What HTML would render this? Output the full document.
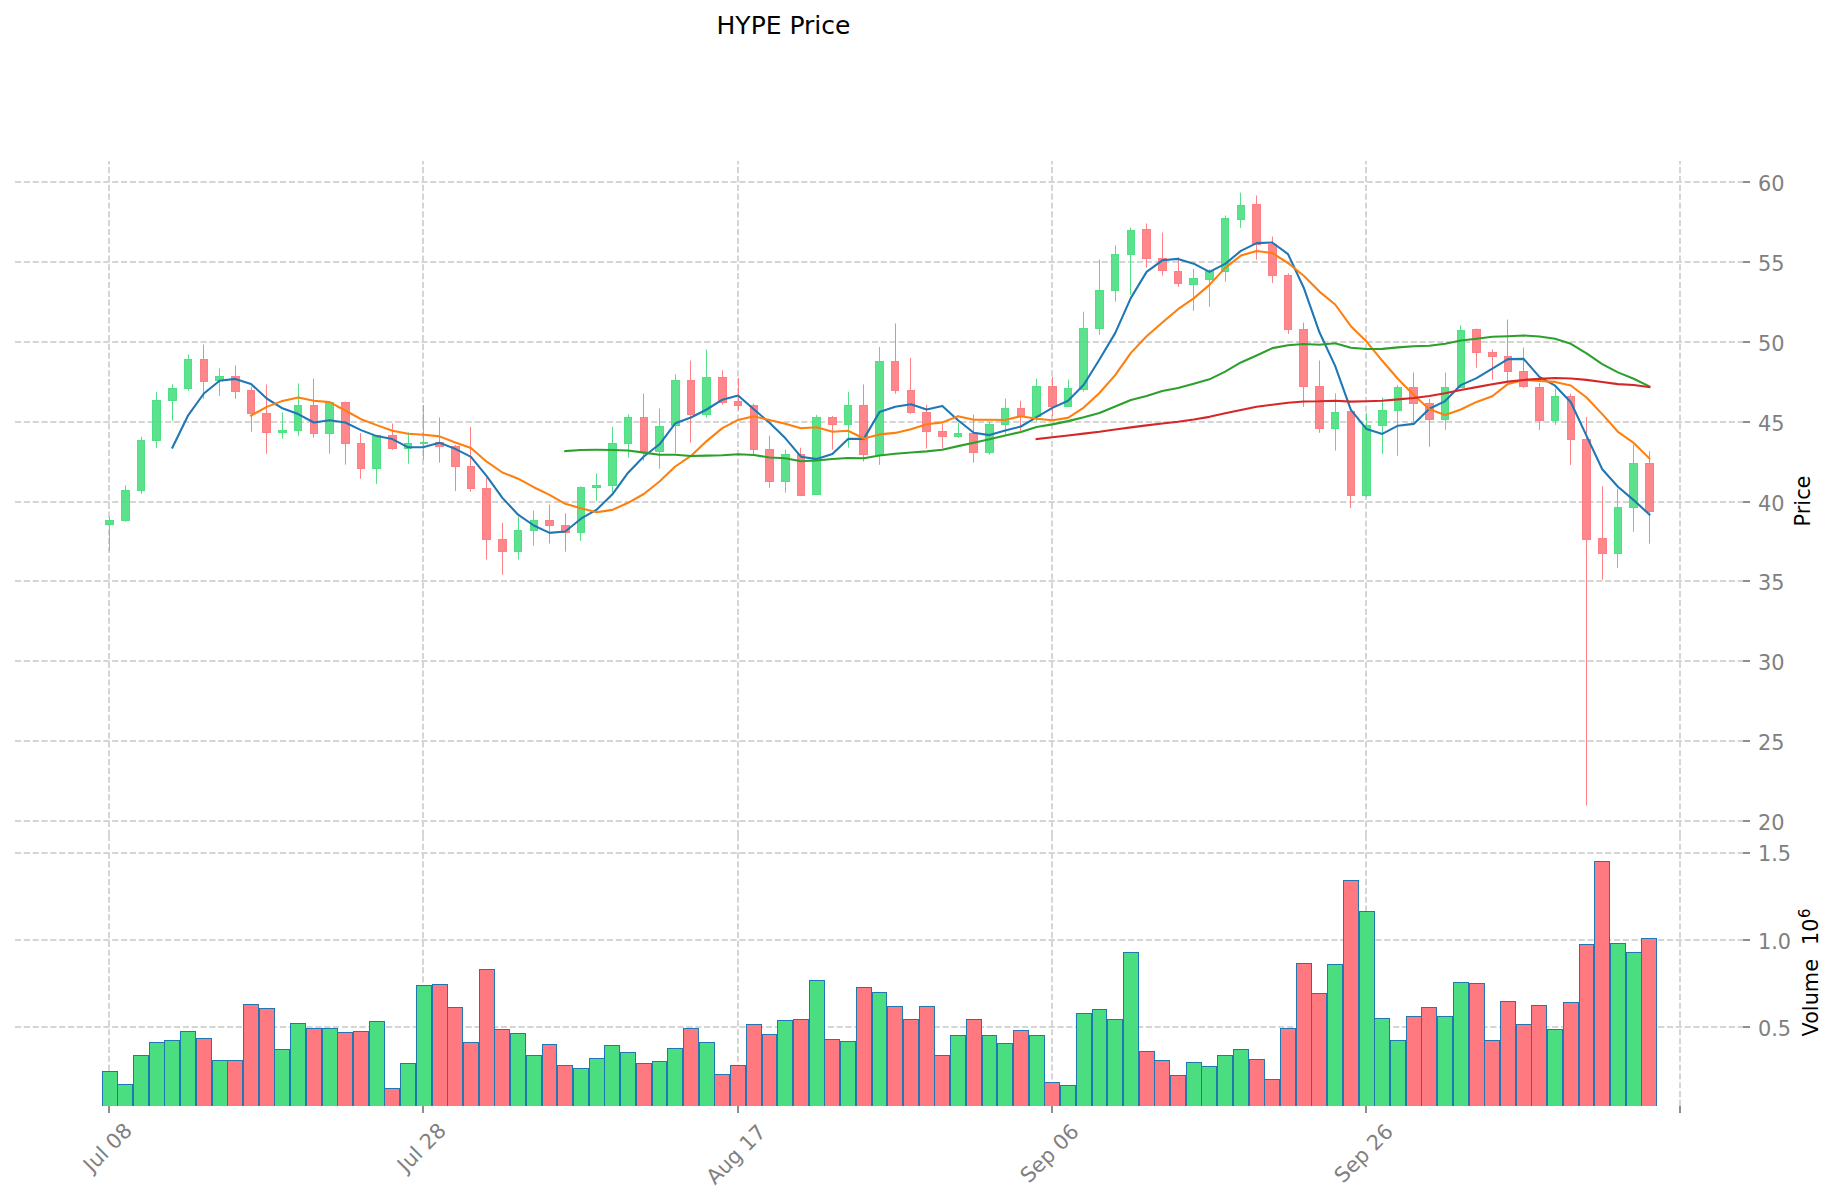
<!DOCTYPE html>
<html><head><meta charset="utf-8"><title>HYPE Price</title>
<style>html,body{margin:0;padding:0;background:#fff}svg{display:block}text{font-family:"DejaVu Sans","Liberation Sans",sans-serif}</style></head>
<body>
<svg width="1839" height="1202" viewBox="0 0 1839 1202">
<rect width="1839" height="1202" fill="#fff"/>
<g stroke="#d5d5d5" stroke-width="2" stroke-dasharray="6.167 2.667" fill="none">
<path d="M15.0 182H1743.4"/>
<path d="M15.0 262H1743.4"/>
<path d="M15.0 342H1743.4"/>
<path d="M15.0 422H1743.4"/>
<path d="M15.0 502H1743.4"/>
<path d="M15.0 581H1743.4"/>
<path d="M15.0 661H1743.4"/>
<path d="M15.0 741H1743.4"/>
<path d="M15.0 821H1743.4"/>
<path d="M15.0 853H1743.4"/>
<path d="M15.0 940H1743.4"/>
<path d="M15.0 1027H1743.4"/>
<path d="M109 835.8V161.1"/>
<path d="M109 1106.0V835.8"/>
<path d="M423 835.8V161.1"/>
<path d="M423 1106.0V835.8"/>
<path d="M738 835.8V161.1"/>
<path d="M738 1106.0V835.8"/>
<path d="M1052 835.8V161.1"/>
<path d="M1052 1106.0V835.8"/>
<path d="M1366 835.8V161.1"/>
<path d="M1366 1106.0V835.8"/>
<path d="M1680 835.8V161.1"/>
<path d="M1680 1106.0V835.8"/>
</g>
<g><g fill="#4ade80" stroke="#4ade80"><path d="M109.5 516.6V520M109.5 525V551.1" stroke-width="1" stroke-opacity="0.95" fill="none"/><rect x="105.5" y="520.5" width="8.0" height="4" stroke-width="1" fill-opacity="0.9" stroke-opacity="0.95"/></g>
<g fill="#4ade80" stroke="#4ade80"><path d="M125.5 485.3V490M125.5 521V521.7" stroke-width="1" stroke-opacity="0.95" fill="none"/><rect x="121.5" y="490.5" width="8.0" height="30" stroke-width="1" fill-opacity="0.9" stroke-opacity="0.95"/></g>
<g fill="#4ade80" stroke="#4ade80"><path d="M141.5 436.8V440M141.5 491V493.8" stroke-width="1" stroke-opacity="0.95" fill="none"/><rect x="137.5" y="440.5" width="7.0" height="50" stroke-width="1" fill-opacity="0.9" stroke-opacity="0.95"/></g>
<g fill="#4ade80" stroke="#4ade80"><path d="M156.5 391.9V400M156.5 441V447.9" stroke-width="1" stroke-opacity="0.95" fill="none"/><rect x="152.5" y="400.5" width="8.0" height="40" stroke-width="1" fill-opacity="0.9" stroke-opacity="0.95"/></g>
<g fill="#4ade80" stroke="#4ade80"><path d="M172.5 384.3V388M172.5 401V420.7" stroke-width="1" stroke-opacity="0.95" fill="none"/><rect x="168.5" y="388.5" width="8.0" height="12" stroke-width="1" fill-opacity="0.9" stroke-opacity="0.95"/></g>
<g fill="#4ade80" stroke="#4ade80"><path d="M188.5 354.6V359M188.5 389V390.8" stroke-width="1" stroke-opacity="0.95" fill="none"/><rect x="184.5" y="359.5" width="7.0" height="29" stroke-width="1" fill-opacity="0.9" stroke-opacity="0.95"/></g>
<g fill="#fe7a80" stroke="#fe7a80"><path d="M203.5 344.6V359M203.5 382V398.8" stroke-width="1" stroke-opacity="0.95" fill="none"/><rect x="200.5" y="359.5" width="7.0" height="22" stroke-width="1" fill-opacity="0.9" stroke-opacity="0.95"/></g>
<g fill="#4ade80" stroke="#4ade80"><path d="M219.5 368.5V376M219.5 381V395.8" stroke-width="1" stroke-opacity="0.95" fill="none"/><rect x="215.5" y="376.5" width="8.0" height="4" stroke-width="1" fill-opacity="0.9" stroke-opacity="0.95"/></g>
<g fill="#fe7a80" stroke="#fe7a80"><path d="M235.5 365.5V376M235.5 392V398.8" stroke-width="1" stroke-opacity="0.95" fill="none"/><rect x="231.5" y="376.5" width="8.0" height="15" stroke-width="1" fill-opacity="0.9" stroke-opacity="0.95"/></g>
<g fill="#fe7a80" stroke="#fe7a80"><path d="M251.5 386.9V390M251.5 414V431.7" stroke-width="1" stroke-opacity="0.95" fill="none"/><rect x="247.5" y="390.5" width="7.0" height="23" stroke-width="1" fill-opacity="0.9" stroke-opacity="0.95"/></g>
<g fill="#fe7a80" stroke="#fe7a80"><path d="M266.5 384.5V413M266.5 433V453.7" stroke-width="1" stroke-opacity="0.95" fill="none"/><rect x="262.5" y="413.5" width="8.0" height="19" stroke-width="1" fill-opacity="0.9" stroke-opacity="0.95"/></g>
<g fill="#4ade80" stroke="#4ade80"><path d="M282.5 412.4V430M282.5 433V438.7" stroke-width="1" stroke-opacity="0.95" fill="none"/><rect x="278.5" y="430.5" width="8.0" height="2" stroke-width="1" fill-opacity="0.9" stroke-opacity="0.95"/></g>
<g fill="#4ade80" stroke="#4ade80"><path d="M298.5 383.5V405M298.5 431V435.7" stroke-width="1" stroke-opacity="0.95" fill="none"/><rect x="294.5" y="405.5" width="7.0" height="25" stroke-width="1" fill-opacity="0.9" stroke-opacity="0.95"/></g>
<g fill="#fe7a80" stroke="#fe7a80"><path d="M313.5 378.5V405M313.5 434V437.7" stroke-width="1" stroke-opacity="0.95" fill="none"/><rect x="310.5" y="405.5" width="7.0" height="28" stroke-width="1" fill-opacity="0.9" stroke-opacity="0.95"/></g>
<g fill="#4ade80" stroke="#4ade80"><path d="M329.5 401.9V402M329.5 434V453.7" stroke-width="1" stroke-opacity="0.95" fill="none"/><rect x="325.5" y="402.5" width="8.0" height="31" stroke-width="1" fill-opacity="0.9" stroke-opacity="0.95"/></g>
<g fill="#fe7a80" stroke="#fe7a80"><path d="M345.5 401.5V402M345.5 444V464.6" stroke-width="1" stroke-opacity="0.95" fill="none"/><rect x="341.5" y="402.5" width="8.0" height="41" stroke-width="1" fill-opacity="0.9" stroke-opacity="0.95"/></g>
<g fill="#fe7a80" stroke="#fe7a80"><path d="M360.5 433.2V443M360.5 469V478.8" stroke-width="1" stroke-opacity="0.95" fill="none"/><rect x="357.5" y="443.5" width="7.0" height="25" stroke-width="1" fill-opacity="0.9" stroke-opacity="0.95"/></g>
<g fill="#4ade80" stroke="#4ade80"><path d="M376.5 434.8V435M376.5 469V483.8" stroke-width="1" stroke-opacity="0.95" fill="none"/><rect x="372.5" y="435.5" width="8.0" height="33" stroke-width="1" fill-opacity="0.9" stroke-opacity="0.95"/></g>
<g fill="#fe7a80" stroke="#fe7a80"><path d="M392.5 423.5V435M392.5 449V449.9" stroke-width="1" stroke-opacity="0.95" fill="none"/><rect x="388.5" y="435.5" width="8.0" height="13" stroke-width="1" fill-opacity="0.9" stroke-opacity="0.95"/></g>
<g fill="#4ade80" stroke="#4ade80"><path d="M408.5 432.3V443M408.5 449V463.7" stroke-width="1" stroke-opacity="0.95" fill="none"/><rect x="404.5" y="443.5" width="7.0" height="5" stroke-width="1" fill-opacity="0.9" stroke-opacity="0.95"/></g>
<g fill="#4ade80" stroke="#4ade80"><path d="M423.5 404.9V442M423.5 444V459.7" stroke-width="1" stroke-opacity="0.95" fill="none"/><rect x="420.5" y="442.5" width="7.0" height="1" stroke-width="1" fill-opacity="0.9" stroke-opacity="0.95"/></g>
<g fill="#fe7a80" stroke="#fe7a80"><path d="M439.5 417.5V442M439.5 447V462.7" stroke-width="1" stroke-opacity="0.95" fill="none"/><rect x="435.5" y="442.5" width="8.0" height="4" stroke-width="1" fill-opacity="0.9" stroke-opacity="0.95"/></g>
<g fill="#fe7a80" stroke="#fe7a80"><path d="M455.5 444.9V446M455.5 467V490.9" stroke-width="1" stroke-opacity="0.95" fill="none"/><rect x="451.5" y="446.5" width="8.0" height="20" stroke-width="1" fill-opacity="0.9" stroke-opacity="0.95"/></g>
<g fill="#fe7a80" stroke="#fe7a80"><path d="M470.5 426.9V466M470.5 489V491.7" stroke-width="1" stroke-opacity="0.95" fill="none"/><rect x="467.5" y="466.5" width="7.0" height="22" stroke-width="1" fill-opacity="0.9" stroke-opacity="0.95"/></g>
<g fill="#fe7a80" stroke="#fe7a80"><path d="M486.5 477.8V488M486.5 540V559.5" stroke-width="1" stroke-opacity="0.95" fill="none"/><rect x="482.5" y="488.5" width="8.0" height="51" stroke-width="1" fill-opacity="0.9" stroke-opacity="0.95"/></g>
<g fill="#fe7a80" stroke="#fe7a80"><path d="M502.5 522.7V539M502.5 552V574.7" stroke-width="1" stroke-opacity="0.95" fill="none"/><rect x="498.5" y="539.5" width="8.0" height="12" stroke-width="1" fill-opacity="0.9" stroke-opacity="0.95"/></g>
<g fill="#4ade80" stroke="#4ade80"><path d="M518.5 516.7V530M518.5 552V559.5" stroke-width="1" stroke-opacity="0.95" fill="none"/><rect x="514.5" y="530.5" width="7.0" height="21" stroke-width="1" fill-opacity="0.9" stroke-opacity="0.95"/></g>
<g fill="#4ade80" stroke="#4ade80"><path d="M533.5 510.7V520M533.5 531V545.7" stroke-width="1" stroke-opacity="0.95" fill="none"/><rect x="530.5" y="520.5" width="7.0" height="10" stroke-width="1" fill-opacity="0.9" stroke-opacity="0.95"/></g>
<g fill="#fe7a80" stroke="#fe7a80"><path d="M549.5 504.7V520M549.5 526V543.6" stroke-width="1" stroke-opacity="0.95" fill="none"/><rect x="545.5" y="520.5" width="8.0" height="5" stroke-width="1" fill-opacity="0.9" stroke-opacity="0.95"/></g>
<g fill="#fe7a80" stroke="#fe7a80"><path d="M565.5 513.3V525M565.5 533V551.7" stroke-width="1" stroke-opacity="0.95" fill="none"/><rect x="561.5" y="525.5" width="8.0" height="7" stroke-width="1" fill-opacity="0.9" stroke-opacity="0.95"/></g>
<g fill="#4ade80" stroke="#4ade80"><path d="M580.5 486.4V487M580.5 533V540.8" stroke-width="1" stroke-opacity="0.95" fill="none"/><rect x="577.5" y="487.5" width="7.0" height="45" stroke-width="1" fill-opacity="0.9" stroke-opacity="0.95"/></g>
<g fill="#4ade80" stroke="#4ade80"><path d="M596.5 473.4V485M596.5 488V500.8" stroke-width="1" stroke-opacity="0.95" fill="none"/><rect x="592.5" y="485.5" width="8.0" height="2" stroke-width="1" fill-opacity="0.9" stroke-opacity="0.95"/></g>
<g fill="#4ade80" stroke="#4ade80"><path d="M612.5 426.9V443M612.5 486V492.3" stroke-width="1" stroke-opacity="0.95" fill="none"/><rect x="608.5" y="443.5" width="8.0" height="42" stroke-width="1" fill-opacity="0.9" stroke-opacity="0.95"/></g>
<g fill="#4ade80" stroke="#4ade80"><path d="M628.5 414.3V417M628.5 444V457.7" stroke-width="1" stroke-opacity="0.95" fill="none"/><rect x="624.5" y="417.5" width="7.0" height="26" stroke-width="1" fill-opacity="0.9" stroke-opacity="0.95"/></g>
<g fill="#fe7a80" stroke="#fe7a80"><path d="M643.5 393.6V417M643.5 452V460.7" stroke-width="1" stroke-opacity="0.95" fill="none"/><rect x="640.5" y="417.5" width="7.0" height="34" stroke-width="1" fill-opacity="0.9" stroke-opacity="0.95"/></g>
<g fill="#4ade80" stroke="#4ade80"><path d="M659.5 408.5V426M659.5 452V468.7" stroke-width="1" stroke-opacity="0.95" fill="none"/><rect x="655.5" y="426.5" width="8.0" height="25" stroke-width="1" fill-opacity="0.9" stroke-opacity="0.95"/></g>
<g fill="#4ade80" stroke="#4ade80"><path d="M675.5 374.4V380M675.5 426V453.3" stroke-width="1" stroke-opacity="0.95" fill="none"/><rect x="671.5" y="380.5" width="8.0" height="45" stroke-width="1" fill-opacity="0.9" stroke-opacity="0.95"/></g>
<g fill="#fe7a80" stroke="#fe7a80"><path d="M690.5 360.5V380M690.5 415V442.6" stroke-width="1" stroke-opacity="0.95" fill="none"/><rect x="687.5" y="380.5" width="7.0" height="34" stroke-width="1" fill-opacity="0.9" stroke-opacity="0.95"/></g>
<g fill="#4ade80" stroke="#4ade80"><path d="M706.5 349.5V377M706.5 415V417.6" stroke-width="1" stroke-opacity="0.95" fill="none"/><rect x="702.5" y="377.5" width="8.0" height="37" stroke-width="1" fill-opacity="0.9" stroke-opacity="0.95"/></g>
<g fill="#fe7a80" stroke="#fe7a80"><path d="M722.5 370.4V377M722.5 403V404.7" stroke-width="1" stroke-opacity="0.95" fill="none"/><rect x="718.5" y="377.5" width="8.0" height="25" stroke-width="1" fill-opacity="0.9" stroke-opacity="0.95"/></g>
<g fill="#fe7a80" stroke="#fe7a80"><path d="M738.5 377.8V401M738.5 406V409.9" stroke-width="1" stroke-opacity="0.95" fill="none"/><rect x="734.5" y="401.5" width="7.0" height="4" stroke-width="1" fill-opacity="0.9" stroke-opacity="0.95"/></g>
<g fill="#fe7a80" stroke="#fe7a80"><path d="M753.5 403.8V405M753.5 450V454.2" stroke-width="1" stroke-opacity="0.95" fill="none"/><rect x="750.5" y="405.5" width="7.0" height="44" stroke-width="1" fill-opacity="0.9" stroke-opacity="0.95"/></g>
<g fill="#fe7a80" stroke="#fe7a80"><path d="M769.5 435.7V449M769.5 482V487.7" stroke-width="1" stroke-opacity="0.95" fill="none"/><rect x="765.5" y="449.5" width="8.0" height="32" stroke-width="1" fill-opacity="0.9" stroke-opacity="0.95"/></g>
<g fill="#4ade80" stroke="#4ade80"><path d="M785.5 449.7V454M785.5 482V492.7" stroke-width="1" stroke-opacity="0.95" fill="none"/><rect x="781.5" y="454.5" width="8.0" height="27" stroke-width="1" fill-opacity="0.9" stroke-opacity="0.95"/></g>
<g fill="#fe7a80" stroke="#fe7a80"><path d="M800.5 447.7V454M800.5 496V496.1" stroke-width="1" stroke-opacity="0.95" fill="none"/><rect x="797.5" y="454.5" width="7.0" height="41" stroke-width="1" fill-opacity="0.9" stroke-opacity="0.95"/></g>
<g fill="#4ade80" stroke="#4ade80"><path d="M816.5 414.8V417M816.5 495V495.1" stroke-width="1" stroke-opacity="0.95" fill="none"/><rect x="812.5" y="417.5" width="8.0" height="77" stroke-width="1" fill-opacity="0.9" stroke-opacity="0.95"/></g>
<g fill="#fe7a80" stroke="#fe7a80"><path d="M832.5 416.1V417M832.5 425V449.6" stroke-width="1" stroke-opacity="0.95" fill="none"/><rect x="828.5" y="417.5" width="8.0" height="7" stroke-width="1" fill-opacity="0.9" stroke-opacity="0.95"/></g>
<g fill="#4ade80" stroke="#4ade80"><path d="M848.5 391.8V405M848.5 425V447.6" stroke-width="1" stroke-opacity="0.95" fill="none"/><rect x="844.5" y="405.5" width="7.0" height="19" stroke-width="1" fill-opacity="0.9" stroke-opacity="0.95"/></g>
<g fill="#fe7a80" stroke="#fe7a80"><path d="M863.5 384.4V405M863.5 455V461.6" stroke-width="1" stroke-opacity="0.95" fill="none"/><rect x="859.5" y="405.5" width="8.0" height="49" stroke-width="1" fill-opacity="0.9" stroke-opacity="0.95"/></g>
<g fill="#4ade80" stroke="#4ade80"><path d="M879.5 346.9V361M879.5 455V464.8" stroke-width="1" stroke-opacity="0.95" fill="none"/><rect x="875.5" y="361.5" width="8.0" height="93" stroke-width="1" fill-opacity="0.9" stroke-opacity="0.95"/></g>
<g fill="#fe7a80" stroke="#fe7a80"><path d="M895.5 323.5V361M895.5 391V393.7" stroke-width="1" stroke-opacity="0.95" fill="none"/><rect x="891.5" y="361.5" width="7.0" height="29" stroke-width="1" fill-opacity="0.9" stroke-opacity="0.95"/></g>
<g fill="#fe7a80" stroke="#fe7a80"><path d="M910.5 357.9V390M910.5 413V413.9" stroke-width="1" stroke-opacity="0.95" fill="none"/><rect x="907.5" y="390.5" width="7.0" height="22" stroke-width="1" fill-opacity="0.9" stroke-opacity="0.95"/></g>
<g fill="#fe7a80" stroke="#fe7a80"><path d="M926.5 404.8V412M926.5 432V448.6" stroke-width="1" stroke-opacity="0.95" fill="none"/><rect x="922.5" y="412.5" width="8.0" height="19" stroke-width="1" fill-opacity="0.9" stroke-opacity="0.95"/></g>
<g fill="#fe7a80" stroke="#fe7a80"><path d="M942.5 423.7V431M942.5 437V448.6" stroke-width="1" stroke-opacity="0.95" fill="none"/><rect x="938.5" y="431.5" width="8.0" height="5" stroke-width="1" fill-opacity="0.9" stroke-opacity="0.95"/></g>
<g fill="#4ade80" stroke="#4ade80"><path d="M958.5 422.7V433M958.5 437V437.8" stroke-width="1" stroke-opacity="0.95" fill="none"/><rect x="954.5" y="433.5" width="7.0" height="3" stroke-width="1" fill-opacity="0.9" stroke-opacity="0.95"/></g>
<g fill="#fe7a80" stroke="#fe7a80"><path d="M973.5 414.7V433M973.5 453V462.7" stroke-width="1" stroke-opacity="0.95" fill="none"/><rect x="969.5" y="433.5" width="8.0" height="19" stroke-width="1" fill-opacity="0.9" stroke-opacity="0.95"/></g>
<g fill="#4ade80" stroke="#4ade80"><path d="M989.5 421.7V424M989.5 453V454.7" stroke-width="1" stroke-opacity="0.95" fill="none"/><rect x="985.5" y="424.5" width="8.0" height="28" stroke-width="1" fill-opacity="0.9" stroke-opacity="0.95"/></g>
<g fill="#4ade80" stroke="#4ade80"><path d="M1005.5 398.7V408M1005.5 425V434.1" stroke-width="1" stroke-opacity="0.95" fill="none"/><rect x="1001.5" y="408.5" width="7.0" height="16" stroke-width="1" fill-opacity="0.9" stroke-opacity="0.95"/></g>
<g fill="#fe7a80" stroke="#fe7a80"><path d="M1020.5 400.7V408M1020.5 417V431.1" stroke-width="1" stroke-opacity="0.95" fill="none"/><rect x="1017.5" y="408.5" width="7.0" height="8" stroke-width="1" fill-opacity="0.9" stroke-opacity="0.95"/></g>
<g fill="#4ade80" stroke="#4ade80"><path d="M1036.5 378.7V386M1036.5 417V421.2" stroke-width="1" stroke-opacity="0.95" fill="none"/><rect x="1032.5" y="386.5" width="8.0" height="30" stroke-width="1" fill-opacity="0.9" stroke-opacity="0.95"/></g>
<g fill="#fe7a80" stroke="#fe7a80"><path d="M1052.5 376.7V386M1052.5 407V416.2" stroke-width="1" stroke-opacity="0.95" fill="none"/><rect x="1048.5" y="386.5" width="8.0" height="20" stroke-width="1" fill-opacity="0.9" stroke-opacity="0.95"/></g>
<g fill="#4ade80" stroke="#4ade80"><path d="M1068.5 379.6V388M1068.5 407V407.0" stroke-width="1" stroke-opacity="0.95" fill="none"/><rect x="1064.5" y="388.5" width="7.0" height="18" stroke-width="1" fill-opacity="0.9" stroke-opacity="0.95"/></g>
<g fill="#4ade80" stroke="#4ade80"><path d="M1083.5 311.7V328M1083.5 390V391.7" stroke-width="1" stroke-opacity="0.95" fill="none"/><rect x="1079.5" y="328.5" width="8.0" height="61" stroke-width="1" fill-opacity="0.9" stroke-opacity="0.95"/></g>
<g fill="#4ade80" stroke="#4ade80"><path d="M1099.5 259.4V290M1099.5 329V334.8" stroke-width="1" stroke-opacity="0.95" fill="none"/><rect x="1095.5" y="290.5" width="8.0" height="38" stroke-width="1" fill-opacity="0.9" stroke-opacity="0.95"/></g>
<g fill="#4ade80" stroke="#4ade80"><path d="M1115.5 245.4V254M1115.5 291V301.6" stroke-width="1" stroke-opacity="0.95" fill="none"/><rect x="1111.5" y="254.5" width="7.0" height="36" stroke-width="1" fill-opacity="0.9" stroke-opacity="0.95"/></g>
<g fill="#4ade80" stroke="#4ade80"><path d="M1130.5 227.3V230M1130.5 255V294.7" stroke-width="1" stroke-opacity="0.95" fill="none"/><rect x="1127.5" y="230.5" width="7.0" height="24" stroke-width="1" fill-opacity="0.9" stroke-opacity="0.95"/></g>
<g fill="#fe7a80" stroke="#fe7a80"><path d="M1146.5 223.5V229M1146.5 259V267.7" stroke-width="1" stroke-opacity="0.95" fill="none"/><rect x="1142.5" y="229.5" width="8.0" height="29" stroke-width="1" fill-opacity="0.9" stroke-opacity="0.95"/></g>
<g fill="#fe7a80" stroke="#fe7a80"><path d="M1162.5 232.5V258M1162.5 271V275.7" stroke-width="1" stroke-opacity="0.95" fill="none"/><rect x="1158.5" y="258.5" width="8.0" height="12" stroke-width="1" fill-opacity="0.9" stroke-opacity="0.95"/></g>
<g fill="#fe7a80" stroke="#fe7a80"><path d="M1178.5 257.2V271M1178.5 284V286.9" stroke-width="1" stroke-opacity="0.95" fill="none"/><rect x="1174.5" y="271.5" width="7.0" height="12" stroke-width="1" fill-opacity="0.9" stroke-opacity="0.95"/></g>
<g fill="#4ade80" stroke="#4ade80"><path d="M1193.5 268.8V278M1193.5 285V310.8" stroke-width="1" stroke-opacity="0.95" fill="none"/><rect x="1189.5" y="278.5" width="8.0" height="6" stroke-width="1" fill-opacity="0.9" stroke-opacity="0.95"/></g>
<g fill="#4ade80" stroke="#4ade80"><path d="M1209.5 269.2V271M1209.5 280V306.8" stroke-width="1" stroke-opacity="0.95" fill="none"/><rect x="1205.5" y="271.5" width="8.0" height="8" stroke-width="1" fill-opacity="0.9" stroke-opacity="0.95"/></g>
<g fill="#4ade80" stroke="#4ade80"><path d="M1225.5 215.5V218M1225.5 272V281.7" stroke-width="1" stroke-opacity="0.95" fill="none"/><rect x="1221.5" y="218.5" width="7.0" height="53" stroke-width="1" fill-opacity="0.9" stroke-opacity="0.95"/></g>
<g fill="#4ade80" stroke="#4ade80"><path d="M1240.5 192.6V205M1240.5 220V227.8" stroke-width="1" stroke-opacity="0.95" fill="none"/><rect x="1237.5" y="205.5" width="7.0" height="14" stroke-width="1" fill-opacity="0.9" stroke-opacity="0.95"/></g>
<g fill="#fe7a80" stroke="#fe7a80"><path d="M1256.5 195.5V204M1256.5 245V259.7" stroke-width="1" stroke-opacity="0.95" fill="none"/><rect x="1252.5" y="204.5" width="8.0" height="40" stroke-width="1" fill-opacity="0.9" stroke-opacity="0.95"/></g>
<g fill="#fe7a80" stroke="#fe7a80"><path d="M1272.5 236.5V244M1272.5 276V282.9" stroke-width="1" stroke-opacity="0.95" fill="none"/><rect x="1268.5" y="244.5" width="8.0" height="31" stroke-width="1" fill-opacity="0.9" stroke-opacity="0.95"/></g>
<g fill="#fe7a80" stroke="#fe7a80"><path d="M1288.5 273.4V275M1288.5 330V333.8" stroke-width="1" stroke-opacity="0.95" fill="none"/><rect x="1284.5" y="275.5" width="7.0" height="54" stroke-width="1" fill-opacity="0.9" stroke-opacity="0.95"/></g>
<g fill="#fe7a80" stroke="#fe7a80"><path d="M1303.5 322.6V329M1303.5 387V406.9" stroke-width="1" stroke-opacity="0.95" fill="none"/><rect x="1299.5" y="329.5" width="8.0" height="57" stroke-width="1" fill-opacity="0.9" stroke-opacity="0.95"/></g>
<g fill="#fe7a80" stroke="#fe7a80"><path d="M1319.5 360.5V386M1319.5 429V432.8" stroke-width="1" stroke-opacity="0.95" fill="none"/><rect x="1315.5" y="386.5" width="8.0" height="42" stroke-width="1" fill-opacity="0.9" stroke-opacity="0.95"/></g>
<g fill="#4ade80" stroke="#4ade80"><path d="M1335.5 393.4V412M1335.5 429V450.6" stroke-width="1" stroke-opacity="0.95" fill="none"/><rect x="1331.5" y="412.5" width="7.0" height="16" stroke-width="1" fill-opacity="0.9" stroke-opacity="0.95"/></g>
<g fill="#fe7a80" stroke="#fe7a80"><path d="M1350.5 410.8V411M1350.5 496V508.1" stroke-width="1" stroke-opacity="0.95" fill="none"/><rect x="1347.5" y="411.5" width="7.0" height="84" stroke-width="1" fill-opacity="0.9" stroke-opacity="0.95"/></g>
<g fill="#4ade80" stroke="#4ade80"><path d="M1366.5 412.8V425M1366.5 496V497.1" stroke-width="1" stroke-opacity="0.95" fill="none"/><rect x="1362.5" y="425.5" width="8.0" height="70" stroke-width="1" fill-opacity="0.9" stroke-opacity="0.95"/></g>
<g fill="#4ade80" stroke="#4ade80"><path d="M1382.5 397.4V410M1382.5 426V453.8" stroke-width="1" stroke-opacity="0.95" fill="none"/><rect x="1378.5" y="410.5" width="8.0" height="15" stroke-width="1" fill-opacity="0.9" stroke-opacity="0.95"/></g>
<g fill="#4ade80" stroke="#4ade80"><path d="M1397.5 385.2V387M1397.5 411V455.8" stroke-width="1" stroke-opacity="0.95" fill="none"/><rect x="1394.5" y="387.5" width="7.0" height="23" stroke-width="1" fill-opacity="0.9" stroke-opacity="0.95"/></g>
<g fill="#fe7a80" stroke="#fe7a80"><path d="M1413.5 372.5V387M1413.5 404V422.7" stroke-width="1" stroke-opacity="0.95" fill="none"/><rect x="1409.5" y="387.5" width="8.0" height="16" stroke-width="1" fill-opacity="0.9" stroke-opacity="0.95"/></g>
<g fill="#fe7a80" stroke="#fe7a80"><path d="M1429.5 398.8V403M1429.5 420V446.8" stroke-width="1" stroke-opacity="0.95" fill="none"/><rect x="1425.5" y="403.5" width="8.0" height="16" stroke-width="1" fill-opacity="0.9" stroke-opacity="0.95"/></g>
<g fill="#4ade80" stroke="#4ade80"><path d="M1445.5 372.5V387M1445.5 420V429.8" stroke-width="1" stroke-opacity="0.95" fill="none"/><rect x="1441.5" y="387.5" width="7.0" height="32" stroke-width="1" fill-opacity="0.9" stroke-opacity="0.95"/></g>
<g fill="#4ade80" stroke="#4ade80"><path d="M1460.5 325.5V330M1460.5 388V387.7" stroke-width="1" stroke-opacity="0.95" fill="none"/><rect x="1457.5" y="330.5" width="7.0" height="57" stroke-width="1" fill-opacity="0.9" stroke-opacity="0.95"/></g>
<g fill="#fe7a80" stroke="#fe7a80"><path d="M1476.5 328.5V329M1476.5 353V367.8" stroke-width="1" stroke-opacity="0.95" fill="none"/><rect x="1472.5" y="329.5" width="8.0" height="23" stroke-width="1" fill-opacity="0.9" stroke-opacity="0.95"/></g>
<g fill="#fe7a80" stroke="#fe7a80"><path d="M1492.5 349.3V352M1492.5 357V379.7" stroke-width="1" stroke-opacity="0.95" fill="none"/><rect x="1488.5" y="352.5" width="8.0" height="4" stroke-width="1" fill-opacity="0.9" stroke-opacity="0.95"/></g>
<g fill="#fe7a80" stroke="#fe7a80"><path d="M1507.5 319.6V356M1507.5 372V380.9" stroke-width="1" stroke-opacity="0.95" fill="none"/><rect x="1504.5" y="356.5" width="7.0" height="15" stroke-width="1" fill-opacity="0.9" stroke-opacity="0.95"/></g>
<g fill="#fe7a80" stroke="#fe7a80"><path d="M1523.5 347.5V371M1523.5 387V387.9" stroke-width="1" stroke-opacity="0.95" fill="none"/><rect x="1519.5" y="371.5" width="8.0" height="15" stroke-width="1" fill-opacity="0.9" stroke-opacity="0.95"/></g>
<g fill="#fe7a80" stroke="#fe7a80"><path d="M1539.5 383.0V387M1539.5 421V430.0" stroke-width="1" stroke-opacity="0.95" fill="none"/><rect x="1535.5" y="387.5" width="8.0" height="33" stroke-width="1" fill-opacity="0.9" stroke-opacity="0.95"/></g>
<g fill="#4ade80" stroke="#4ade80"><path d="M1555.5 388.9V396M1555.5 421V424.8" stroke-width="1" stroke-opacity="0.95" fill="none"/><rect x="1551.5" y="396.5" width="7.0" height="24" stroke-width="1" fill-opacity="0.9" stroke-opacity="0.95"/></g>
<g fill="#fe7a80" stroke="#fe7a80"><path d="M1570.5 393.5V396M1570.5 440V464.9" stroke-width="1" stroke-opacity="0.95" fill="none"/><rect x="1567.5" y="396.5" width="7.0" height="43" stroke-width="1" fill-opacity="0.9" stroke-opacity="0.95"/></g>
<g fill="#fe7a80" stroke="#fe7a80"><path d="M1586.5 416.9V439M1586.5 540V805.6" stroke-width="1" stroke-opacity="0.95" fill="none"/><rect x="1582.5" y="439.5" width="8.0" height="100" stroke-width="1" fill-opacity="0.9" stroke-opacity="0.95"/></g>
<g fill="#fe7a80" stroke="#fe7a80"><path d="M1602.5 486.3V538M1602.5 554V579.7" stroke-width="1" stroke-opacity="0.95" fill="none"/><rect x="1598.5" y="538.5" width="8.0" height="15" stroke-width="1" fill-opacity="0.9" stroke-opacity="0.95"/></g>
<g fill="#4ade80" stroke="#4ade80"><path d="M1617.5 488.7V507M1617.5 554V568.1" stroke-width="1" stroke-opacity="0.95" fill="none"/><rect x="1614.5" y="507.5" width="7.0" height="46" stroke-width="1" fill-opacity="0.9" stroke-opacity="0.95"/></g>
<g fill="#4ade80" stroke="#4ade80"><path d="M1633.5 444.8V463M1633.5 508V531.8" stroke-width="1" stroke-opacity="0.95" fill="none"/><rect x="1629.5" y="463.5" width="8.0" height="44" stroke-width="1" fill-opacity="0.9" stroke-opacity="0.95"/></g>
<g fill="#fe7a80" stroke="#fe7a80"><path d="M1649.5 451.4V463M1649.5 512V543.7" stroke-width="1" stroke-opacity="0.95" fill="none"/><rect x="1645.5" y="463.5" width="8.0" height="48" stroke-width="1" fill-opacity="0.9" stroke-opacity="0.95"/></g></g>
<path d="M172.45 447.50L188.16 415.30L203.87 393.50L219.58 380.70L235.30 378.90L251.01 383.90L266.72 398.50L282.43 408.30L298.14 414.10L313.86 422.50L329.57 420.30L345.28 422.50L360.99 430.10L376.70 436.10L392.42 439.10L408.13 447.30L423.84 447.10L439.55 442.70L455.27 448.90L470.98 456.90L486.69 476.10L502.40 497.90L518.11 514.70L533.83 525.50L549.54 532.90L565.25 531.50L580.96 518.70L596.67 509.70L612.39 494.30L628.10 472.70L643.81 456.50L659.52 444.30L675.24 423.30L690.95 417.50L706.66 409.50L722.37 399.70L738.08 395.50L753.80 409.30L769.51 422.70L785.22 438.10L800.93 456.70L816.64 459.10L832.36 454.10L848.07 438.90L863.78 438.90L879.49 412.10L895.20 406.70L910.92 404.30L926.63 409.50L942.34 405.90L958.05 420.30L973.77 432.70L989.48 435.10L1005.19 430.50L1020.90 426.50L1036.61 417.10L1052.33 407.90L1068.04 400.70L1083.75 384.70L1099.46 359.50L1115.17 333.10L1130.89 297.90L1146.60 271.90L1162.31 260.30L1178.02 258.90L1193.74 263.70L1209.45 271.90L1225.16 263.90L1240.87 250.90L1256.58 243.10L1272.30 242.50L1288.01 254.10L1303.72 287.70L1319.43 332.30L1335.14 365.90L1350.86 409.90L1366.57 429.10L1382.28 433.90L1397.99 425.70L1413.71 423.90L1429.42 408.70L1445.13 401.10L1460.84 385.10L1476.55 378.10L1492.27 368.70L1507.98 359.10L1523.69 358.90L1539.40 376.90L1555.11 385.70L1570.83 402.30L1586.54 435.90L1602.25 469.30L1617.96 486.70L1633.68 500.10L1649.39 514.50" fill="none" stroke="#1f77b4" stroke-width="2.08" stroke-linejoin="round" stroke-linecap="square"/>
<path d="M251.01 415.70L266.72 406.90L282.43 400.90L298.14 397.40L313.86 400.70L329.57 402.10L345.28 410.50L360.99 419.20L376.70 425.10L392.42 430.80L408.13 433.80L423.84 434.80L439.55 436.40L455.27 442.50L470.98 448.00L486.69 461.70L502.40 472.50L518.11 478.70L533.83 487.20L549.54 494.90L565.25 503.80L580.96 508.30L596.67 512.20L612.39 509.90L628.10 502.80L643.81 494.00L659.52 481.50L675.24 466.50L690.95 455.90L706.66 441.10L722.37 428.10L738.08 419.90L753.80 416.30L769.51 420.10L785.22 423.80L800.93 428.20L816.64 427.30L832.36 431.70L848.07 430.80L863.78 438.50L879.49 434.40L895.20 432.90L910.92 429.20L926.63 424.20L942.34 422.40L958.05 416.20L973.77 419.70L989.48 419.70L1005.19 420.00L1020.90 416.20L1036.61 418.70L1052.33 420.30L1068.04 417.90L1083.75 407.60L1099.46 393.00L1115.17 375.10L1130.89 352.90L1146.60 336.30L1162.31 322.50L1178.02 309.20L1193.74 298.40L1209.45 284.90L1225.16 267.90L1240.87 255.60L1256.58 251.00L1272.30 253.10L1288.01 263.00L1303.72 275.80L1319.43 291.60L1335.14 304.50L1350.86 326.20L1366.57 341.60L1382.28 360.80L1397.99 379.00L1413.71 394.90L1429.42 409.30L1445.13 415.10L1460.84 409.50L1476.55 401.90L1492.27 396.30L1507.98 383.90L1523.69 380.00L1539.40 381.00L1555.11 381.90L1570.83 385.50L1586.54 397.50L1602.25 414.10L1617.96 431.80L1633.68 442.90L1649.39 458.40" fill="none" stroke="#ff7f0e" stroke-width="2.08" stroke-linejoin="round" stroke-linecap="square"/>
<path d="M565.25 451.10L580.96 450.00L596.67 449.83L612.39 449.93L628.10 450.50L643.81 452.60L659.52 454.83L675.24 454.80L690.95 456.07L706.66 455.60L722.37 455.23L738.08 454.33L753.80 454.97L769.51 457.50L785.22 458.20L800.93 461.30L816.64 460.43L832.36 458.97L848.07 457.97L863.78 458.17L879.49 455.43L895.20 453.70L910.92 452.57L926.63 451.40L942.34 449.67L958.05 446.13L973.77 442.83L989.48 439.30L1005.19 435.57L1020.90 431.93L1036.61 427.07L1052.33 424.37L1068.04 421.13L1083.75 417.30L1099.46 413.07L1115.17 406.50L1130.89 399.97L1146.60 395.90L1162.31 391.10L1178.02 387.97L1193.74 383.83L1209.45 379.37L1225.16 371.67L1240.87 362.47L1256.58 355.47L1272.30 348.13L1288.01 345.20L1303.72 343.93L1319.43 344.70L1335.14 343.30L1350.86 347.77L1366.57 348.93L1382.28 348.87L1397.99 347.40L1413.71 346.30L1429.42 345.83L1445.13 343.67L1460.84 340.53L1476.55 338.67L1492.27 336.67L1507.98 336.17L1523.69 335.50L1539.40 336.57L1555.11 338.83L1570.83 343.80L1586.54 353.30L1602.25 364.07L1617.96 372.37L1633.68 378.80L1649.39 386.40" fill="none" stroke="#2ca02c" stroke-width="2.08" stroke-linejoin="round" stroke-linecap="square"/>
<path d="M1036.61 439.08L1052.33 437.18L1068.04 435.48L1083.75 433.62L1099.46 431.78L1115.17 429.55L1130.89 427.40L1146.60 425.35L1162.31 423.58L1178.02 421.78L1193.74 419.53L1209.45 416.85L1225.16 413.32L1240.87 409.98L1256.58 406.83L1272.30 404.72L1288.01 402.82L1303.72 401.45L1319.43 401.33L1335.14 400.73L1350.86 401.60L1366.57 401.32L1382.28 400.72L1397.99 399.40L1413.71 397.98L1429.42 395.98L1445.13 393.25L1460.84 389.92L1476.55 387.12L1492.27 384.30L1507.98 381.62L1523.69 379.93L1539.40 378.85L1555.11 378.07L1570.83 378.43L1586.54 379.90L1602.25 382.02L1617.96 384.13L1633.68 384.95L1649.39 387.18" fill="none" stroke="#d62728" stroke-width="2.08" stroke-linejoin="round" stroke-linecap="square"/>
<clipPath id="vc"><rect x="0" y="836" width="1839" height="270"/></clipPath>
<g clip-path="url(#vc)" stroke="#1f77b4" stroke-width="1"><rect x="102.5" y="1071.5" width="15.0" height="37.5" fill="#4ade80"/>
<rect x="117.5" y="1084.5" width="15.0" height="24.5" fill="#4ade80"/>
<rect x="133.5" y="1055.5" width="15.0" height="53.5" fill="#4ade80"/>
<rect x="149.5" y="1042.5" width="15.0" height="66.5" fill="#4ade80"/>
<rect x="164.5" y="1040.5" width="15.0" height="68.5" fill="#4ade80"/>
<rect x="180.5" y="1031.5" width="15.0" height="77.5" fill="#4ade80"/>
<rect x="196.5" y="1038.5" width="15.0" height="70.5" fill="#fe7a80"/>
<rect x="212.5" y="1060.5" width="15.0" height="48.5" fill="#4ade80"/>
<rect x="227.5" y="1060.5" width="15.0" height="48.5" fill="#fe7a80"/>
<rect x="243.5" y="1004.5" width="15.0" height="104.5" fill="#fe7a80"/>
<rect x="259.5" y="1008.5" width="15.0" height="100.5" fill="#fe7a80"/>
<rect x="274.5" y="1049.5" width="15.0" height="59.5" fill="#4ade80"/>
<rect x="290.5" y="1023.5" width="15.0" height="85.5" fill="#4ade80"/>
<rect x="306.5" y="1028.5" width="15.0" height="80.5" fill="#fe7a80"/>
<rect x="322.5" y="1028.5" width="15.0" height="80.5" fill="#4ade80"/>
<rect x="337.5" y="1032.5" width="15.0" height="76.5" fill="#fe7a80"/>
<rect x="353.5" y="1031.5" width="15.0" height="77.5" fill="#fe7a80"/>
<rect x="369.5" y="1021.5" width="15.0" height="87.5" fill="#4ade80"/>
<rect x="384.5" y="1088.5" width="15.0" height="20.5" fill="#fe7a80"/>
<rect x="400.5" y="1063.5" width="15.0" height="45.5" fill="#4ade80"/>
<rect x="416.5" y="985.5" width="15.0" height="123.5" fill="#4ade80"/>
<rect x="432.5" y="984.5" width="15.0" height="124.5" fill="#fe7a80"/>
<rect x="447.5" y="1007.5" width="15.0" height="101.5" fill="#fe7a80"/>
<rect x="463.5" y="1042.5" width="15.0" height="66.5" fill="#fe7a80"/>
<rect x="479.5" y="969.5" width="15.0" height="139.5" fill="#fe7a80"/>
<rect x="494.5" y="1029.5" width="15.0" height="79.5" fill="#fe7a80"/>
<rect x="510.5" y="1033.5" width="15.0" height="75.5" fill="#4ade80"/>
<rect x="526.5" y="1055.5" width="15.0" height="53.5" fill="#4ade80"/>
<rect x="542.5" y="1044.5" width="14.0" height="64.5" fill="#fe7a80"/>
<rect x="557.5" y="1065.5" width="15.0" height="43.5" fill="#fe7a80"/>
<rect x="573.5" y="1068.5" width="15.0" height="40.5" fill="#4ade80"/>
<rect x="589.5" y="1058.5" width="15.0" height="50.5" fill="#4ade80"/>
<rect x="604.5" y="1045.5" width="15.0" height="63.5" fill="#4ade80"/>
<rect x="620.5" y="1052.5" width="15.0" height="56.5" fill="#4ade80"/>
<rect x="636.5" y="1063.5" width="15.0" height="45.5" fill="#fe7a80"/>
<rect x="652.5" y="1061.5" width="14.0" height="47.5" fill="#4ade80"/>
<rect x="667.5" y="1048.5" width="15.0" height="60.5" fill="#4ade80"/>
<rect x="683.5" y="1028.5" width="15.0" height="80.5" fill="#fe7a80"/>
<rect x="699.5" y="1042.5" width="15.0" height="66.5" fill="#4ade80"/>
<rect x="714.5" y="1074.5" width="15.0" height="34.5" fill="#fe7a80"/>
<rect x="730.5" y="1065.5" width="15.0" height="43.5" fill="#fe7a80"/>
<rect x="746.5" y="1024.5" width="15.0" height="84.5" fill="#fe7a80"/>
<rect x="762.5" y="1034.5" width="14.0" height="74.5" fill="#fe7a80"/>
<rect x="777.5" y="1020.5" width="15.0" height="88.5" fill="#4ade80"/>
<rect x="793.5" y="1019.5" width="15.0" height="89.5" fill="#fe7a80"/>
<rect x="809.5" y="980.5" width="15.0" height="128.5" fill="#4ade80"/>
<rect x="824.5" y="1039.5" width="15.0" height="69.5" fill="#fe7a80"/>
<rect x="840.5" y="1041.5" width="15.0" height="67.5" fill="#4ade80"/>
<rect x="856.5" y="987.5" width="15.0" height="121.5" fill="#fe7a80"/>
<rect x="872.5" y="992.5" width="14.0" height="116.5" fill="#4ade80"/>
<rect x="887.5" y="1006.5" width="15.0" height="102.5" fill="#fe7a80"/>
<rect x="903.5" y="1019.5" width="15.0" height="89.5" fill="#fe7a80"/>
<rect x="919.5" y="1006.5" width="15.0" height="102.5" fill="#fe7a80"/>
<rect x="934.5" y="1055.5" width="15.0" height="53.5" fill="#fe7a80"/>
<rect x="950.5" y="1035.5" width="15.0" height="73.5" fill="#4ade80"/>
<rect x="966.5" y="1019.5" width="15.0" height="89.5" fill="#fe7a80"/>
<rect x="982.5" y="1035.5" width="14.0" height="73.5" fill="#4ade80"/>
<rect x="997.5" y="1043.5" width="15.0" height="65.5" fill="#4ade80"/>
<rect x="1013.5" y="1030.5" width="15.0" height="78.5" fill="#fe7a80"/>
<rect x="1029.5" y="1035.5" width="15.0" height="73.5" fill="#4ade80"/>
<rect x="1044.5" y="1082.5" width="15.0" height="26.5" fill="#fe7a80"/>
<rect x="1060.5" y="1085.5" width="15.0" height="23.5" fill="#4ade80"/>
<rect x="1076.5" y="1013.5" width="15.0" height="95.5" fill="#4ade80"/>
<rect x="1092.5" y="1009.5" width="14.0" height="99.5" fill="#4ade80"/>
<rect x="1107.5" y="1019.5" width="15.0" height="89.5" fill="#4ade80"/>
<rect x="1123.5" y="952.5" width="15.0" height="156.5" fill="#4ade80"/>
<rect x="1139.5" y="1051.5" width="15.0" height="57.5" fill="#fe7a80"/>
<rect x="1154.5" y="1060.5" width="15.0" height="48.5" fill="#fe7a80"/>
<rect x="1170.5" y="1075.5" width="15.0" height="33.5" fill="#fe7a80"/>
<rect x="1186.5" y="1062.5" width="15.0" height="46.5" fill="#4ade80"/>
<rect x="1201.5" y="1066.5" width="15.0" height="42.5" fill="#4ade80"/>
<rect x="1217.5" y="1055.5" width="15.0" height="53.5" fill="#4ade80"/>
<rect x="1233.5" y="1049.5" width="15.0" height="59.5" fill="#4ade80"/>
<rect x="1249.5" y="1059.5" width="15.0" height="49.5" fill="#fe7a80"/>
<rect x="1264.5" y="1079.5" width="15.0" height="29.5" fill="#fe7a80"/>
<rect x="1280.5" y="1028.5" width="15.0" height="80.5" fill="#fe7a80"/>
<rect x="1296.5" y="963.5" width="15.0" height="145.5" fill="#fe7a80"/>
<rect x="1311.5" y="993.5" width="15.0" height="115.5" fill="#fe7a80"/>
<rect x="1327.5" y="964.5" width="15.0" height="144.5" fill="#4ade80"/>
<rect x="1343.5" y="880.5" width="15.0" height="228.5" fill="#fe7a80"/>
<rect x="1359.5" y="911.5" width="15.0" height="197.5" fill="#4ade80"/>
<rect x="1374.5" y="1018.5" width="15.0" height="90.5" fill="#4ade80"/>
<rect x="1390.5" y="1040.5" width="15.0" height="68.5" fill="#4ade80"/>
<rect x="1406.5" y="1016.5" width="15.0" height="92.5" fill="#fe7a80"/>
<rect x="1421.5" y="1007.5" width="15.0" height="101.5" fill="#fe7a80"/>
<rect x="1437.5" y="1016.5" width="15.0" height="92.5" fill="#4ade80"/>
<rect x="1453.5" y="982.5" width="15.0" height="126.5" fill="#4ade80"/>
<rect x="1469.5" y="983.5" width="15.0" height="125.5" fill="#fe7a80"/>
<rect x="1484.5" y="1040.5" width="15.0" height="68.5" fill="#fe7a80"/>
<rect x="1500.5" y="1001.5" width="15.0" height="107.5" fill="#fe7a80"/>
<rect x="1516.5" y="1024.5" width="15.0" height="84.5" fill="#fe7a80"/>
<rect x="1531.5" y="1005.5" width="15.0" height="103.5" fill="#fe7a80"/>
<rect x="1547.5" y="1029.5" width="15.0" height="79.5" fill="#4ade80"/>
<rect x="1563.5" y="1002.5" width="15.0" height="106.5" fill="#fe7a80"/>
<rect x="1579.5" y="944.5" width="14.0" height="164.5" fill="#fe7a80"/>
<rect x="1594.5" y="861.5" width="15.0" height="247.5" fill="#fe7a80"/>
<rect x="1610.5" y="943.5" width="15.0" height="165.5" fill="#4ade80"/>
<rect x="1626.5" y="952.5" width="15.0" height="156.5" fill="#4ade80"/>
<rect x="1641.5" y="938.5" width="15.0" height="170.5" fill="#fe7a80"/></g>
<g stroke="#8e8e8e" stroke-width="2">
<path d="M1743 182h7"/>
<path d="M1743 262h7"/>
<path d="M1743 342h7"/>
<path d="M1743 422h7"/>
<path d="M1743 502h7"/>
<path d="M1743 581h7"/>
<path d="M1743 661h7"/>
<path d="M1743 741h7"/>
<path d="M1743 821h7"/>
<path d="M1743 853h7"/>
<path d="M1743 940h7"/>
<path d="M1743 1027h7"/>
<path d="M109 1106.0v7"/>
<path d="M423 1106.0v7"/>
<path d="M738 1106.0v7"/>
<path d="M1052 1106.0v7"/>
<path d="M1366 1106.0v7"/>
<path d="M1680 1106.0v7"/>
</g>
<g font-size="20.83" fill="#808080">
<text x="1758" y="190.60">60</text>
<text x="1758" y="270.60">55</text>
<text x="1758" y="350.60">50</text>
<text x="1758" y="430.60">45</text>
<text x="1758" y="510.60">40</text>
<text x="1758" y="589.60">35</text>
<text x="1758" y="669.60">30</text>
<text x="1758" y="749.60">25</text>
<text x="1758" y="829.60">20</text>
<text x="1758" y="860.80">1.5</text>
<text x="1758" y="948.60">1.0</text>
<text x="1758" y="1035.60">0.5</text>
<text transform="translate(107.30 1147.20) rotate(-45)" text-anchor="middle" y="7.6">Jul 08</text>
<text transform="translate(421.30 1147.20) rotate(-45)" text-anchor="middle" y="7.6">Jul 28</text>
<text transform="translate(735.60 1154.10) rotate(-45)" text-anchor="middle" y="7.6">Aug 17</text>
<text transform="translate(1049.20 1153.10) rotate(-45)" text-anchor="middle" y="7.6">Sep 06</text>
<text transform="translate(1363.30 1153.10) rotate(-45)" text-anchor="middle" y="7.6">Sep 26</text>
</g>
<text x="783.5" y="33.9" font-size="25" text-anchor="middle" fill="#000">HYPE Price</text>
<text transform="translate(1810 501) rotate(-90)" font-size="20.83" text-anchor="middle" fill="#000">Price</text>
<g font-size="20.83" fill="#000"><text transform="translate(1818.3 1036.5) rotate(-90)">Volume</text><text transform="translate(1818.3 945.1) rotate(-90)">10</text><text transform="translate(1810.3 917.9) rotate(-90)" font-size="15">6</text></g>
</svg></body></html>
